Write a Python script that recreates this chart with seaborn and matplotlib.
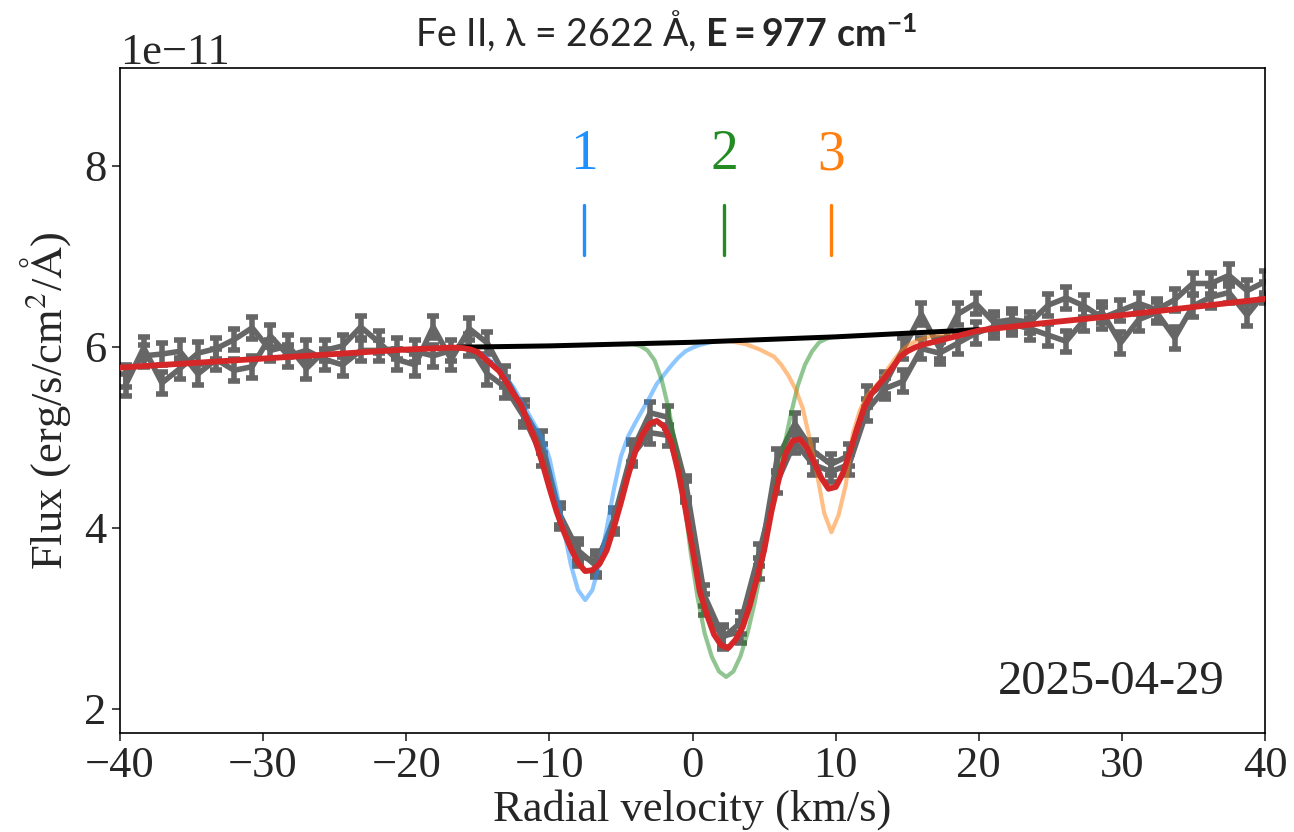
import numpy as np
import pandas as pd
import matplotlib
matplotlib.use("Agg")
import matplotlib.pyplot as plt
import seaborn as sns

# ---- data (flux in units of 1e-11 erg/s/cm2/A) ----
velocity = [-39.60, -38.34, -37.07, -35.81, -34.55, -33.28, -32.02, -30.76, -29.49, -28.23,
            -26.97, -25.70, -24.44, -23.18, -21.91, -20.65, -19.38, -18.12, -16.86, -15.59,
            -14.33, -13.07, -11.80, -10.54, -9.28, -8.01, -6.75, -5.49, -4.22, -2.96,
            -1.70, -0.43, 0.83, 2.10, 3.36, 4.62, 5.89, 7.15, 8.41, 9.68,
            10.94, 12.20, 13.47, 14.73, 15.99, 17.26, 18.52, 19.78, 21.05, 22.31,
            23.58, 24.84, 26.10, 27.37, 28.63, 29.89, 31.16, 32.42, 33.68, 34.95,
            36.21, 37.47, 38.74, 40.00]
flux_a = [5.58, 5.99, 5.60, 5.76, 5.93, 5.98, 6.08, 6.21, 5.96, 6.01,
          5.76, 5.96, 6.01, 6.22, 6.05, 5.86, 5.80, 6.22, 5.86, 6.20,
          6.04, 5.67, 5.29, 4.95, 4.15, 3.75, 3.58, 4.10, 4.85, 5.27,
          5.22, 4.45, 3.25, 2.80, 2.85, 3.55, 4.75, 5.15, 4.85, 4.70,
          4.80, 5.45, 5.60, 5.98, 6.36, 5.98, 6.36, 6.48, 6.27, 6.30,
          6.27, 6.46, 6.54, 6.45, 6.32, 6.40, 6.48, 6.41, 6.52, 6.70,
          6.70, 6.79, 6.62, 6.72]
flux_b = [5.68, 5.90, 5.92, 5.95, 5.70, 5.86, 5.74, 5.78, 6.12, 5.90,
          5.96, 5.86, 5.80, 5.96, 5.96, 5.98, 5.95, 5.90, 5.96, 6.02,
          5.70, 5.55, 5.23, 4.80, 4.10, 3.70, 3.62, 4.05, 4.80, 5.05,
          5.02, 4.40, 3.15, 2.78, 2.95, 3.70, 4.50, 4.95, 4.70, 4.62,
          4.70, 5.30, 5.54, 5.62, 5.98, 5.93, 6.04, 6.15, 6.22, 6.25,
          6.20, 6.13, 6.06, 6.30, 6.38, 6.04, 6.30, 6.38, 6.10, 6.45,
          6.55, 6.60, 6.35, 6.60]
flux_err = 0.12

# total fit
fit_v = [-40, -35, -30, -25, -20, -17, -16.5, -16, -15.5, -15, -14.5, -14, -13.5, -13,
         -12.5, -12, -11.5, -11, -10.5, -10, -9.5, -9, -8.5, -8, -7.5, -7, -6.5, -6,
         -5.5, -5, -4.5, -4, -3.5, -3, -2.5, -2, -1.5, -1, -0.5, 0, 0.5, 1, 1.5, 2,
         2.5, 3, 3.5, 4, 4.5, 5, 5.5, 6, 6.5, 7, 7.5, 8, 8.5, 9, 9.5, 10, 10.5, 11,
         11.5, 12, 12.5, 13, 13.5, 14, 14.5, 15, 15.5, 16, 17, 18, 19, 20, 21, 25,
         30, 35, 40]
fit_flux = [5.77, 5.82, 5.87, 5.92, 5.97, 5.99, 5.99, 5.985, 5.97, 5.94, 5.87, 5.80, 5.73, 5.61,
            5.48, 5.36, 5.17, 4.97, 4.72, 4.44, 4.18, 3.96, 3.77, 3.61, 3.52, 3.53, 3.60, 3.75,
            4.00, 4.28, 4.58, 4.84, 5.03, 5.15, 5.18, 5.12, 4.95, 4.62, 4.21, 3.76, 3.30, 3.04, 2.82, 2.70,
            2.67, 2.76, 2.90, 3.14, 3.44, 3.75, 4.17, 4.52, 4.82, 4.96, 4.98, 4.88, 4.72, 4.55, 4.43, 4.45, 4.60, 4.84,
            5.10, 5.33, 5.48, 5.58, 5.67, 5.78, 5.89, 5.95, 5.99, 6.02, 6.06, 6.10, 6.14, 6.18, 6.20, 6.27,
            6.35, 6.44, 6.53]

# continuum over the fitted window
cont_v = [-16.5, -10, -5, 0, 5, 10, 15, 20]
cont_flux = [5.995, 6.01, 6.03, 6.05, 6.08, 6.11, 6.15, 6.19]

# components
comp1_v = [-16.5, -16, -15.5, -15, -14.5, -14, -13.5, -13, -12.5, -12, -11.5, -11, -10.5, -10,
           -9.5, -9, -8.5, -8, -7.5, -7, -6.5, -6, -5.5, -5, -4.5, -4, -3.5, -3, -2.5, -2,
           -1.5, -1, -0.5, 0, 0.5, 1, 1.5]
comp1_flux = [5.99, 5.98, 5.97, 5.94, 5.90, 5.83, 5.75, 5.65, 5.55, 5.41, 5.27, 5.13, 4.99, 4.77,
              4.40, 3.98, 3.59, 3.31, 3.20, 3.31, 3.60, 3.99, 4.42, 4.79, 5.01, 5.16, 5.30, 5.44, 5.59, 5.69,
              5.79, 5.88, 5.95, 5.99, 6.02, 6.04, 6.06]
comp2_v = [-5.15, -4.65, -4.15, -3.65, -3.15, -2.65, -2.15, -1.65, -1.15, -0.65, -0.15, 0.35,
           0.85, 1.35, 1.85, 2.35, 2.85, 3.35, 3.85, 4.35, 4.85, 5.35, 5.85, 6.35, 6.85, 7.35,
           7.85, 8.35, 8.85, 9.35, 9.85]
comp2_flux = [6.03, 6.03, 6.03, 6.01, 5.96, 5.85, 5.63, 5.30, 4.86, 4.38, 3.75, 3.23,
              2.83, 2.57, 2.41, 2.35, 2.41, 2.58, 2.84, 3.18, 3.59, 4.04, 4.49, 4.86, 5.24, 5.57,
              5.80, 5.95, 6.05, 6.09, 6.11]
comp3_v = [2.7, 3.7, 4.7, 5.7, 6.2, 6.7, 7.2, 7.7, 8.2, 8.7, 9.2, 9.7, 10.2, 10.7, 11.2, 11.7,
           12.2, 12.7, 13.2, 13.7, 14.2, 14.7, 15.2, 15.7, 16.7, 17.7, 18.7, 19.7]
comp3_flux = [6.06, 6.03, 5.97, 5.89, 5.80, 5.68, 5.53, 5.32, 4.97, 4.59, 4.16, 3.95, 4.14, 4.47, 5.04, 5.30,
              5.46, 5.55, 5.64, 5.77, 5.88, 5.97, 6.03, 6.07, 6.12, 6.15, 6.17, 6.19]

comp_centers = [-7.6, 2.2, 9.7]
comp_labels = ["1", "2", "3"]
comp_colors = ["dodgerblue", "forestgreen", "tab:orange"]
obs_date = "2025-04-29"

scale = 1e-11

# ---- style ----
sns.set_style("ticks")
plt.rcParams["font.family"] = ["Liberation Serif", "DejaVu Serif"]
plt.rcParams["mathtext.fontset"] = "custom"
plt.rcParams["mathtext.rm"] = "Lato"
plt.rcParams["mathtext.it"] = "Lato:italic"
plt.rcParams["mathtext.bf"] = "Lato:bold"
plt.rcParams["axes.linewidth"] = 1.2
plt.rcParams["axes.edgecolor"] = "black"

fig = plt.figure(figsize=(12.94, 8.32), dpi=100)
ax = fig.add_axes([0.0927, 0.119, 0.885, 0.799])

gray = "#666666"
for flux in (flux_a, flux_b):
    df = pd.DataFrame({"v": velocity, "flux": np.array(flux) * scale})
    sns.lineplot(data=df, x="v", y="flux", ax=ax, color=gray, lw=4, zorder=1)
    ax.errorbar(df["v"], df["flux"], yerr=flux_err * scale, fmt="none",
                ecolor=gray, elinewidth=4, capsize=4, capthick=4, zorder=1)

comps = [(comp1_v, comp1_flux), (comp2_v, comp2_flux), (comp3_v, comp3_flux)]
for (cv, cf), col in zip(comps, comp_colors):
    dfc = pd.DataFrame({"v": cv, "flux": np.array(cf) * scale})
    sns.lineplot(data=dfc, x="v", y="flux", ax=ax, color=col, alpha=0.5, lw=3, zorder=2)

dfk = pd.DataFrame({"v": cont_v, "flux": np.array(cont_flux) * scale})
sns.lineplot(data=dfk, x="v", y="flux", ax=ax, color="black", lw=3.6, zorder=3)

dff = pd.DataFrame({"v": fit_v, "flux": np.array(fit_flux) * scale})
sns.lineplot(data=dff, x="v", y="flux", ax=ax, color="tab:red", lw=4.2, zorder=4)

# component markers
for c, lab, col in zip(comp_centers, comp_labels, comp_colors):
    ax.plot([c, c], [7.02 * scale, 7.57 * scale], color=col, lw=2.4)
    ax.text(c, 8.12 * scale, lab, color=col, fontsize=40, ha="center", va="center")

ax.text(0.965, 0.077, obs_date, transform=ax.transAxes, fontsize=35,
        ha="right", va="center")

ax.set_xlim(-40, 40)
ax.set_ylim(1.73 * scale, 9.08 * scale)
ax.set_yticks(np.array([2, 4, 6, 8]) * scale)
ax.tick_params(labelsize=32, length=6, width=1.2, direction="out")
ax.yaxis.get_offset_text().set_fontsize(32)

ax.set_xlabel("Radial velocity (km/s)", fontsize=32, labelpad=2)
ax.set_ylabel(r"Flux (erg/s/cm$^2$/$\mathrm{\AA}$)", fontsize=32,
              math_fontfamily="stix", labelpad=8)
fig.text(0.515, 0.963, r"Fe II, λ = 2622 Å, $\mathbf{E = 977\ cm^{-1}}$",
         fontsize=27, family=["Lato", "DejaVu Sans"], math_fontfamily="custom",
         ha="center", va="center")

fig.savefig("out.png", dpi=100)
